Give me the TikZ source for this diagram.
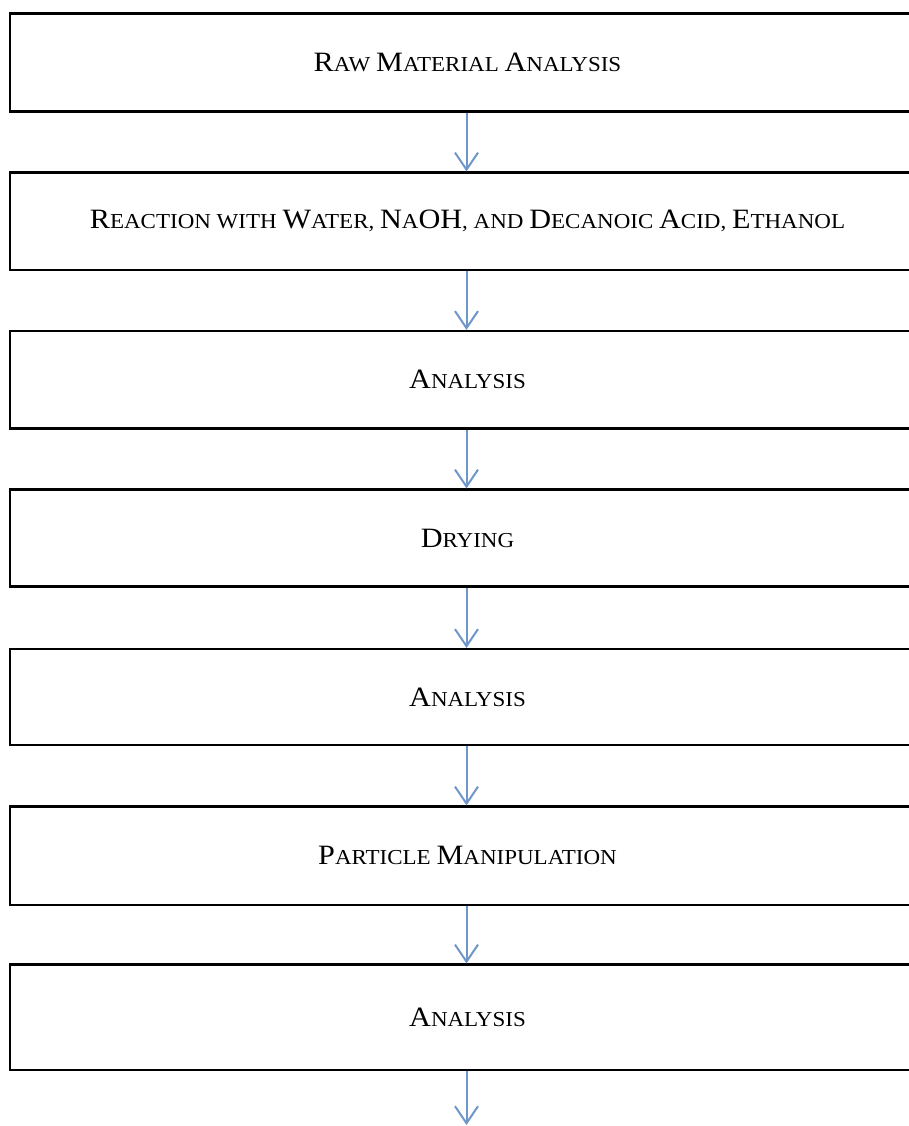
\documentclass[tikz,border=0pt]{standalone}
\usepackage{fontspec}
\setmainfont{Liberation Serif}[FakeStretch=1.08]
\usetikzlibrary{arrows.meta}
\definecolor{arrowblue}{HTML}{6F96C8}
\newcommand\BigL[1]{{\fontsize{28pt}{31pt}\selectfont #1}}
\tikzset{
  stepbox/.style={draw=black, line width=2.2pt, minimum width=915pt, inner sep=0pt,
    font=\fontsize{21.3pt}{25pt}\selectfont},
  flowarrow/.style={draw=arrowblue, line width=2pt,
    -{Straight Barb[length=17pt,width=23pt,line width=2pt]}}
}
\begin{document}
\begin{tikzpicture}[x=1pt,y=-1pt]
\useasboundingbox (0,0) rectangle (909,1126);
\fill[white] (0,0) rectangle (909,1126);
\clip (0,0) rectangle (909,1126);
\node[stepbox, minimum height=98pt]   (b1) at (467.5,62.5)   {\BigL{R}AW \BigL{M}ATERIAL \BigL{A}NALYSIS};
\node[stepbox, minimum height=97.5pt] (b2) at (467.5,221.25) {\BigL{R}EACTION WITH \BigL{W}ATER, \BigL{N}A\BigL{OH}, AND \BigL{D}ECANOIC \BigL{A}CID, \BigL{E}THANOL};
\node[stepbox, minimum height=97.5pt] (b3) at (467.5,379.75) {\BigL{A}NALYSIS};
\node[stepbox, minimum height=97pt]   (b4) at (467.5,538)    {\BigL{D}RYING};
\node[stepbox, minimum height=96pt]   (b5) at (467.5,697)    {\BigL{A}NALYSIS};
\node[stepbox, minimum height=98.5pt] (b6) at (467.5,855.75) {\BigL{P}ARTICLE \BigL{M}ANIPULATION};
\node[stepbox, minimum height=105.5pt] (b7) at (467.5,1017.25) {\BigL{A}NALYSIS};
\coordinate (end) at (466.5,1125);
\foreach \a/\b in {b1/b2,b2/b3,b3/b4,b4/b5,b5/b6,b6/b7}{
  \draw[flowarrow] ([xshift=-1pt]\a.south) -- ([xshift=-1pt]\b.north);
}
\draw[flowarrow] ([xshift=-1pt]b7.south) -- (end);
\end{tikzpicture}
\end{document}
